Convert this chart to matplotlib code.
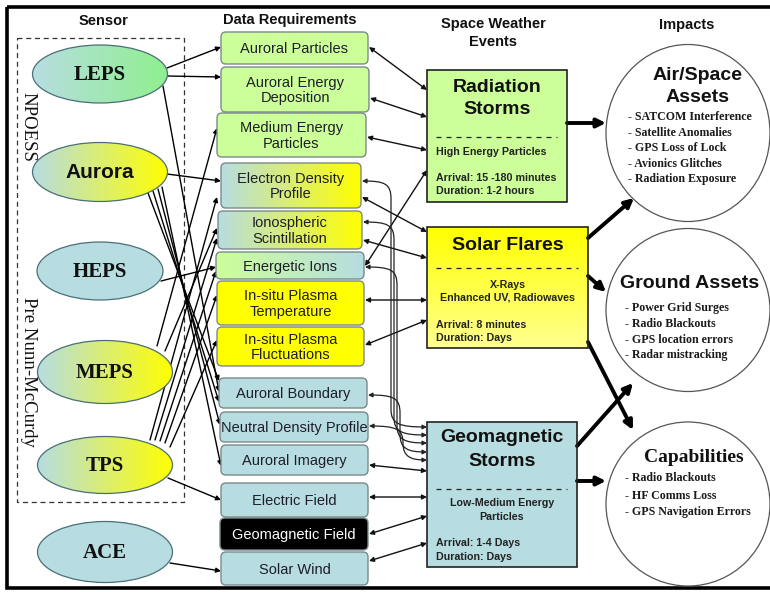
import matplotlib
matplotlib.use("Agg")
import matplotlib.pyplot as plt
import numpy as np
from matplotlib.patches import Ellipse, FancyBboxPatch, Rectangle, FancyArrowPatch
from matplotlib.path import Path
from matplotlib.colors import to_rgb

# ---- diagram content ----
HEADERS = ["Sensor", "Data Requirements", "Space Weather\nEvents", "Impacts"]
GROUP_LABELS = ["NPOESS", "Pre Nunn-McCurdy"]
SENSORS = ["LEPS", "Aurora", "HEPS", "MEPS", "TPS", "ACE"]
DATA_REQS = [
    "Auroral Particles", "Auroral Energy\nDeposition", "Medium Energy\nParticles",
    "Electron Density\nProfile", "Ionospheric\nScintillation", "Energetic Ions",
    "In-situ Plasma\nTemperature", "In-situ Plasma\nFluctuations", "Auroral Boundary",
    "Neutral Density Profile", "Auroral Imagery", "Electric Field",
    "Geomagnetic Field", "Solar Wind",
]
EVENTS = ["Radiation\nStorms", "Solar Flares", "Geomagnetic\nStorms"]
EVENT_DETAILS = [
    ["High Energy Particles"],
    ["X-Rays", "Enhanced UV, Radiowaves"],
    ["Low-Medium Energy", "Particles"],
]
EVENT_TIMING = [
    ["Arrival: 15 -180 minutes", "Duration: 1-2 hours"],
    ["Arrival: 8 minutes", "Duration: Days"],
    ["Arrival: 1-4 Days", "Duration: Days"],
]
IMPACTS = ["Air/Space\nAssets", "Ground Assets", "Capabilities"]
IMPACT_ITEMS = [
    ["SATCOM Interference", "Satellite Anomalies", "GPS Loss of Lock",
     "Avionics Glitches", "Radiation Exposure"],
    ["Power Grid Surges", "Radio Blackouts", "GPS location errors", "Radar mistracking"],
    ["Radio Blackouts", "HF Comms Loss", "GPS Navigation Errors"],
]

# ---- layout (pixel coordinates, y down) ----
BLUE = "#b7dde1"
GREEN = "#ccff99"
LGREEN = "#8ff08f"
YELLOW = "#ffff00"

sensor_geom = [(100, 74, 135, 58), (100, 172, 135, 59), (100, 271, 126, 58),
               (105, 372, 135, 63), (105, 465, 135, 57), (105, 552, 135, 61)]
sensor_fill = [(BLUE, LGREEN), (BLUE, YELLOW), (BLUE, BLUE),
               (BLUE, YELLOW), (BLUE, YELLOW), (BLUE, BLUE)]
sensor_font = ["serif", "sans-serif", "serif", "serif", "serif", "serif"]

data_boxes = [(221, 32, 368, 64), (221, 67, 369, 112), (217, 113, 366, 157),
              (221, 163, 361, 208), (218, 211, 362, 249), (216, 252, 364, 279),
              (217, 281, 364, 325), (217, 327, 364, 366), (219, 378, 367, 408),
              (220, 412, 368, 442), (221, 445, 368, 475), (221, 483, 368, 517),
              (220, 518, 368, 550), (221, 552, 368, 585)]
data_fill = [(GREEN, GREEN), (GREEN, GREEN), (GREEN, GREEN), (BLUE, YELLOW),
             (BLUE, YELLOW), (GREEN, BLUE), (YELLOW, YELLOW), (YELLOW, YELLOW),
             (BLUE, BLUE), (BLUE, BLUE), (BLUE, BLUE), (BLUE, BLUE),
             ("#000000", "#000000"), (BLUE, BLUE)]

event_boxes = [(427, 70, 567, 202), (427, 227, 588, 348), (427, 422, 577, 567)]
event_title_y = [(87, 110), (245,), (438, 462)]
event_dash_y = [137, 268, 489]
event_detail_y = [(152,), (285, 298), (503, 517)]
event_detail_centered = [False, True, True]
event_timing_y = [(178, 191), (325, 338), (543, 557)]

impact_geom = [(688, 133, 164, 177), (688, 310, 164, 163), (688, 504, 164, 164)]
impact_title_xy = [(698, 75, 98), (690, 283), (694, 457)]
impact_title_font = ["sans-serif", "sans-serif", "serif"]
impact_item_x = [628, 625, 625]
impact_item_y = [(117, 133, 148, 164, 179), (308, 324, 340, 355), (478, 496, 512)]

sensor_links = [((167, 68), (221, 47)), ((167, 76), (221, 77)), ((163, 86), (219, 392)),
                ((167, 174), (221, 181)), ((148, 193), (219, 381)), ((153, 191), (219, 402)),
                ((158, 189), (220, 425)), ((162, 187), (221, 466)), ((161, 281), (216, 267)),
                ((157, 346), (217, 128)), ((165, 351), (217, 228)), ((150, 440), (217, 197)),
                ((155, 440), (217, 238)), ((160, 441), (216, 271)), ((165, 443), (217, 295)),
                ((170, 447), (217, 340)), ((168, 478), (221, 500)), ((170, 563), (221, 571))]

event_links = [((369, 47), (427, 90)), ((370, 98), (427, 117)), ((367, 137), (427, 150)),
               ((365, 266), (427, 170)), ((362, 197), (427, 232)), ((363, 240), (427, 258)),
               ((365, 300), (427, 300)), ((365, 345), (427, 320)), ((369, 465), (427, 471)),
               ((369, 497), (427, 497)), ((369, 534), (427, 516)), ((369, 561), (427, 543))]

curved_links = [((362, 181), 427, 391), ((363, 222), 435, 394), ((365, 267), 443, 397),
                ((368, 395), 452, 400), ((369, 426), 460, 403)]

impact_links = [((567, 123), (606, 123)), ((588, 238), (634, 198)), ((588, 276), (606, 292)),
                ((588, 342), (633, 430)), ((577, 446), (633, 383)), ((577, 481), (606, 481))]


def gradient(ax, patch, c0, c1, extent, vertical=False, z=2):
    ramp = np.linspace(0, 1, 256)[:, None]
    rgb = (1 - ramp) * np.array(to_rgb(c0)) + ramp * np.array(to_rgb(c1))
    img = rgb[:, None, :] if vertical else rgb[None, :, :]
    im = ax.imshow(img, extent=extent, aspect="auto", zorder=z, interpolation="bilinear")
    im.set_clip_path(patch)


fig = plt.figure(figsize=(7.7, 5.92), dpi=100)
ax = fig.add_axes([0, 0, 1, 1])
ax.axis("off")

ax.add_patch(Rectangle((7, 7), 780, 581, fill=False, lw=2.6, ec="black", zorder=1))
ax.add_patch(Rectangle((17, 38), 167, 464, fill=False, lw=0.9, ec="#333333",
                       ls=(0, (4, 3)), zorder=1))

hdr_pos = [(104, 21), (290, 20), (493, 33), (687, 25)]
for text, (x, y) in zip(HEADERS, hdr_pos):
    ax.text(x, y, text, ha="center", va="center", fontsize=10.5, fontweight="bold",
            family="Liberation Sans", color="#111111", linespacing=1.45)

for text, (x, y) in zip(GROUP_LABELS, [(28, 127), (28, 372)]):
    ax.text(x, y, text, rotation=-90, ha="center", va="center", fontsize=13.5,
            family="Liberation Serif", color="#111111")

# sensors
for name, (cx, cy, w, h), (c0, c1), fam in zip(SENSORS, sensor_geom, sensor_fill, sensor_font):
    e = Ellipse((cx, cy), w, h, facecolor="none", edgecolor="#4a6f78", lw=0.9, zorder=4)
    ax.add_patch(e)
    gradient(ax, e, c0, c1, (cx - w / 2, cx + w / 2, cy + h / 2, cy - h / 2), z=3)
    ax.text(cx, cy + 1, name, ha="center", va="center", fontsize=15, fontweight="bold",
            family="Liberation Serif" if fam == "serif" else "Liberation Sans",
            color="#111111", zorder=5)

# data requirements
for label, (x0, y0, x1, y1), (c0, c1) in zip(DATA_REQS, data_boxes, data_fill):
    b = FancyBboxPatch((x0, y0), x1 - x0, y1 - y0, boxstyle="round,pad=0,rounding_size=5",
                       facecolor="none", edgecolor="#7a8a8b", lw=1.0, zorder=4)
    ax.add_patch(b)
    gradient(ax, b, c0, c1, (x0, x1, y1, y0), z=3)
    dark = c0 == "#000000"
    ax.text((x0 + x1) / 2, (y0 + y1) / 2 + 1, label, ha="center", va="center",
            fontsize=10.5, family="Liberation Sans", linespacing=1.15,
            color="white" if dark else "#1e1e28", zorder=5)

# space weather events
event_fill = [(GREEN, GREEN), (YELLOW, "#ffff90"), (BLUE, BLUE)]
for i, (x0, y0, x1, y1) in enumerate(event_boxes):
    r = Rectangle((x0, y0), x1 - x0, y1 - y0, facecolor="none", edgecolor="#222222",
                  lw=1.2, zorder=4)
    ax.add_patch(r)
    gradient(ax, r, event_fill[i][0], event_fill[i][1], (x0, x1, y1, y0), vertical=True, z=3)
    xc = (x0 + x1) / 2
    for line, y in zip(EVENTS[i].split("\n"), event_title_y[i]):
        ax.text(xc, y, line, ha="center", va="center", fontsize=14, fontweight="bold",
                family="Liberation Sans", color="#111111", zorder=5)
    ax.plot([x0 + 9, x1 - 10], [event_dash_y[i]] * 2, color="#222222", lw=0.9,
            ls=(0, (4, 4)), zorder=5)
    for line, y in zip(EVENT_DETAILS[i], event_detail_y[i]):
        if event_detail_centered[i]:
            ax.text(xc, y, line, ha="center", va="center", fontsize=7.7, fontweight="bold",
                    family="Liberation Sans", color="#222222", zorder=5)
        else:
            ax.text(x0 + 9, y, line, ha="left", va="center", fontsize=7.7, fontweight="bold",
                    family="Liberation Sans", color="#222222", zorder=5)
    for line, y in zip(EVENT_TIMING[i], event_timing_y[i]):
        ax.text(x0 + 9, y, line, ha="left", va="center", fontsize=7.7, fontweight="bold",
                family="Liberation Sans", color="#222222", zorder=5)

# impacts
for i, (cx, cy, w, h) in enumerate(impact_geom):
    ax.add_patch(Ellipse((cx, cy), w, h, facecolor="white", edgecolor="#555555", lw=0.9,
                         zorder=4))
    tx = impact_title_xy[i][0]
    fam = "Liberation Serif" if impact_title_font[i] == "serif" else "Liberation Sans"
    for line, y in zip(IMPACTS[i].split("\n"), impact_title_xy[i][1:]):
        ax.text(tx, y, line, ha="center", va="center", fontsize=14, fontweight="bold",
                family=fam, color="#111111", zorder=5)
    for item, y in zip(IMPACT_ITEMS[i], impact_item_y[i]):
        ax.text(impact_item_x[i], y, "- " + item, ha="left", va="center", fontsize=8.6,
                fontweight="bold", family="Liberation Serif", color="#1a1a1a", zorder=5)

# connections
for start, end in sensor_links:
    ax.annotate("", xy=end, xytext=start, zorder=2,
                arrowprops=dict(arrowstyle="-|>", lw=1.0, color="black", mutation_scale=7,
                                shrinkA=0, shrinkB=0))

for start, end in event_links:
    ax.annotate("", xy=end, xytext=start, zorder=2,
                arrowprops=dict(arrowstyle="<|-|>", lw=1.0, color="#111111", mutation_scale=7,
                                shrinkA=0, shrinkB=0))

for (x0, y0), y1, vx in curved_links:
    rr = min(18, (y1 - y0) / 2)
    verts = [(x0, y0), (x0 + (vx - x0) * 0.8, y0), (vx, y0 + 3), (vx, y0 + rr),
             (vx, y1 - rr), (vx, y1 - 3), (vx + 8, y1), (427, y1)]
    codes = [Path.MOVETO, Path.CURVE4, Path.CURVE4, Path.CURVE4,
             Path.LINETO, Path.CURVE4, Path.CURVE4, Path.CURVE4]
    ax.add_patch(FancyArrowPatch(path=Path(verts, codes), arrowstyle="<|-|>", lw=0.9,
                                 color="#222222", mutation_scale=6.5, zorder=2))

for start, end in impact_links:
    ax.annotate("", xy=end, xytext=start, zorder=3,
                arrowprops=dict(arrowstyle="-|>", lw=2.8, color="black", mutation_scale=13,
                                shrinkA=0, shrinkB=0))

ax.set_xlim(0, 770)
ax.set_ylim(592, 0)
fig.savefig("out.png", dpi=100, facecolor="white")
